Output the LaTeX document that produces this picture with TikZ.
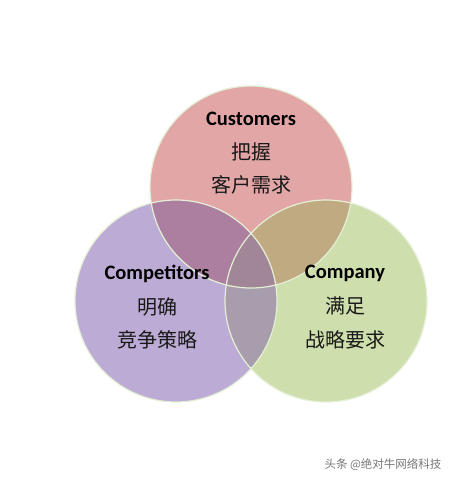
\documentclass[tikz,border=0pt]{standalone}
\usepackage{fontspec}
\setmainfont{Carlito}
\newfontfamily\cjk{Noto Sans CJK SC}
\definecolor{cpink}{RGB}{226,166,166}
\definecolor{cpurple}{RGB}{188,171,212}
\definecolor{cgreen}{RGB}{206,222,172}
\definecolor{cTL}{RGB}{172,126,160}
\definecolor{cTR}{RGB}{192,170,130}
\definecolor{cLR}{RGB}{168,157,172}
\definecolor{cALL}{RGB}{160,134,150}
\definecolor{cedge}{RGB}{228,240,214}
\definecolor{cwm}{RGB}{120,120,120}
\tikzset{
  titletext/.style={font=\bfseries\fontsize{20.5}{24}\selectfont, text=black, inner sep=0pt},
  cntext/.style={font=\cjk\fontsize{20}{24}\selectfont, text=black!90, inner sep=0pt},
  rim/.style={draw=cedge, line width=1.2pt}
}
\begin{document}
\begin{tikzpicture}[x=1pt,y=-1pt]
\useasboundingbox (0,0) rectangle (453,482);
\fill[white] (0,0) rectangle (453,482);
\coordinate (T) at (251,187);
\coordinate (L) at (176,301);
\coordinate (R) at (326,301);
\def\rr{101pt}
\fill[cpink] (T) circle[radius=\rr];
\fill[cpurple] (L) circle[radius=\rr];
\fill[cgreen] (R) circle[radius=\rr];
\begin{scope}
  \clip (T) circle[radius=\rr];
  \fill[cTL] (L) circle[radius=\rr];
  \fill[cTR] (R) circle[radius=\rr];
\end{scope}
\begin{scope}
  \clip (L) circle[radius=\rr];
  \fill[cLR] (R) circle[radius=\rr];
\end{scope}
\begin{scope}
  \clip (T) circle[radius=\rr];
  \clip (L) circle[radius=\rr];
  \fill[cALL] (R) circle[radius=\rr];
\end{scope}
\draw[rim] (T) circle[radius=\rr];
\draw[rim] (L) circle[radius=\rr];
\draw[rim] (R) circle[radius=\rr];
\node[titletext] (t1) at (251,119) {Customers};
\node[cntext] (t2) at (251,152) {把握};
\node[cntext] (t3) at (251,185) {客户需求};
\node[titletext] (l1) at (157,274) {Competitors};
\node[cntext] (l2) at (157,307) {明确};
\node[cntext] (l3) at (157,340) {竞争策略};
\node[titletext] (r1) at (345,273) {Company};
\node[cntext] (r2) at (345,306) {满足};
\node[cntext] (r3) at (345,340) {战略要求};
\node[font=\cjk\fontsize{11.5}{13}\selectfont, text=cwm, inner sep=0pt] (wm) at (383,465) {头条 @绝对牛网络科技};
\end{tikzpicture}
\end{document}
